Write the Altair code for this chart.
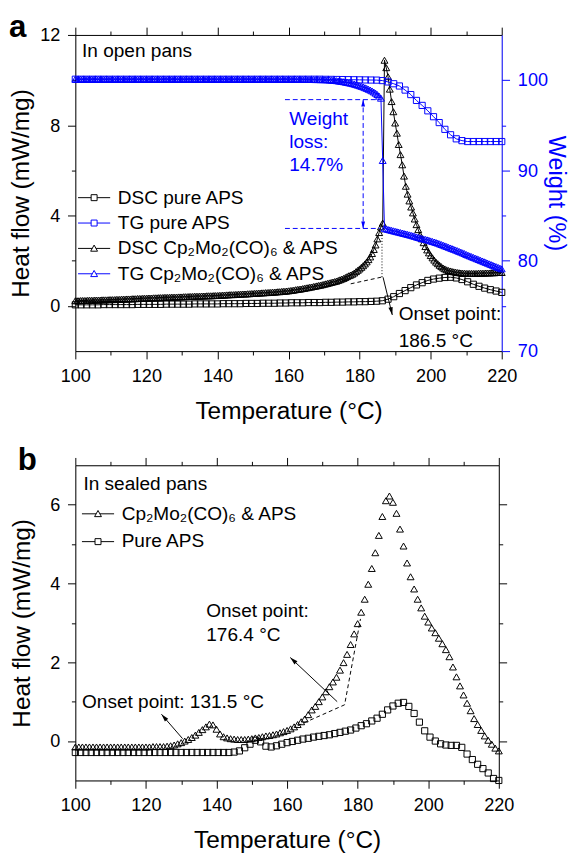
import altair as alt
import pandas as pd

FONT = "Liberation Sans"
BLACK = "#000000"
BLUE = "#0000ff"

# ---------------- panel a : open pans ----------------
T_SQ_A = [100.0, 101.6, 103.2, 104.8, 106.4, 108.0, 109.6, 111.2, 112.8, 114.4,
          116.0, 117.6, 119.2, 120.8, 122.4, 124.0, 125.6, 127.2, 128.8, 130.4,
          132.0, 133.6, 135.2, 136.8, 138.4, 140.0, 141.6, 143.2, 144.8, 146.4,
          148.0, 149.6, 151.2, 152.8, 154.4, 156.0, 157.6, 159.2, 160.8, 162.4,
          164.0, 165.6, 167.2, 168.8, 170.4, 172.0, 173.6, 175.2, 176.8, 178.4,
          180.0, 181.6, 183.2, 184.8, 186.4, 188.0, 189.6, 191.2, 192.8, 194.4,
          196.0, 197.6, 199.2, 200.8, 202.4, 204.0, 205.6, 207.2, 208.8, 210.4,
          212.0, 213.6, 215.2, 216.8, 218.4, 220.0]
DSC_PURE_A = [0.05, 0.05, 0.05, 0.05, 0.05, 0.06, 0.06, 0.06, 0.06, 0.06,
              0.06, 0.07, 0.07, 0.07, 0.07, 0.07, 0.08, 0.08, 0.08, 0.08,
              0.08, 0.09, 0.09, 0.09, 0.09, 0.09, 0.10, 0.10, 0.10, 0.10,
              0.11, 0.11, 0.11, 0.12, 0.12, 0.12, 0.13, 0.13, 0.14, 0.14,
              0.14, 0.15, 0.15, 0.15, 0.16, 0.16, 0.17, 0.17, 0.18, 0.18,
              0.19, 0.19, 0.20, 0.21, 0.23, 0.30, 0.41, 0.55, 0.68, 0.81,
              0.93, 1.03, 1.13, 1.19, 1.23, 1.26, 1.27, 1.24, 1.17, 1.07,
              0.96, 0.87, 0.79, 0.72, 0.66, 0.60]
TG_PURE_A = [100.1, 100.1, 100.1, 100.1, 100.1, 100.1, 100.1, 100.1, 100.1, 100.1,
             100.1, 100.1, 100.1, 100.1, 100.1, 100.1, 100.1, 100.1, 100.1, 100.1,
             100.1, 100.1, 100.1, 100.1, 100.1, 100.1, 100.1, 100.1, 100.1, 100.1,
             100.1, 100.1, 100.1, 100.1, 100.1, 100.1, 100.1, 100.1, 100.1, 100.1,
             100.1, 100.1, 100.1, 100.1, 100.09, 100.08, 100.07, 100.06, 100.05, 100.04,
             100.03, 100.02, 100.01, 100.0, 99.95, 99.8, 99.6, 99.35, 98.9, 98.4,
             97.75, 97.2, 96.6, 95.95, 95.3, 94.55, 93.95, 93.5, 93.3, 93.2,
             93.2, 93.2, 93.2, 93.2, 93.2, 93.2]

T_TRI_A = [100.0, 100.5, 101.0, 101.5, 102.0, 102.5, 103.0, 103.5, 104.0, 104.5,
           105.0, 105.5, 106.0, 106.5, 107.0, 107.5, 108.0, 108.5, 109.0, 109.5,
           110.0, 110.5, 111.0, 111.5, 112.0, 112.5, 113.0, 113.5, 114.0, 114.5,
           115.0, 115.5, 116.0, 116.5, 117.0, 117.5, 118.0, 118.5, 119.0, 119.5,
           120.0, 120.5, 121.0, 121.5, 122.0, 122.5, 123.0, 123.5, 124.0, 124.5,
           125.0, 125.5, 126.0, 126.5, 127.0, 127.5, 128.0, 128.5, 129.0, 129.5,
           130.0, 130.5, 131.0, 131.5, 132.0, 132.5, 133.0, 133.5, 134.0, 134.5,
           135.0, 135.5, 136.0, 136.5, 137.0, 137.5, 138.0, 138.5, 139.0, 139.5,
           140.0, 140.5, 141.0, 141.5, 142.0, 142.5, 143.0, 143.5, 144.0, 144.5,
           145.0, 145.5, 146.0, 146.5, 147.0, 147.5, 148.0, 148.5, 149.0, 149.5,
           150.0, 150.5, 151.0, 151.5, 152.0, 152.5, 153.0, 153.5, 154.0, 154.5,
           155.0, 155.5, 156.0, 156.5, 157.0, 157.5, 158.0, 158.5, 159.0, 159.5,
           160.0, 160.5, 161.0, 161.5, 162.0, 162.5, 163.0, 163.5, 164.0, 164.5,
           165.0, 165.5, 166.0, 166.5, 167.0, 167.5, 168.0, 168.5, 169.0, 169.5,
           170.0, 170.5, 171.0, 171.5, 172.0, 172.5, 173.0, 173.5, 174.0, 174.5,
           175.0, 175.5, 176.0, 176.5, 177.0, 177.5, 178.0, 178.5, 179.0, 179.5,
           180.0, 180.5, 181.0, 181.5, 182.0, 182.5, 183.0, 183.5, 184.0, 184.5,
           185.0, 185.5, 186.0, 186.5, 187.0, 187.5, 188.0, 188.5, 189.0, 189.5,
           190.0, 190.5, 191.0, 191.5, 192.0, 192.5, 193.0, 193.5, 194.0, 194.5,
           195.0, 195.5, 196.0, 196.5, 197.0, 197.5, 198.0, 198.5, 199.0, 199.5,
           200.0, 200.5, 201.0, 201.5, 202.0, 202.5, 203.0, 203.5, 204.0, 204.5,
           205.0, 205.5, 206.0, 206.5, 207.0, 207.5, 208.0, 208.5, 209.0, 209.5,
           210.0, 210.5, 211.0, 211.5, 212.0, 212.5, 213.0, 213.5, 214.0, 214.5,
           215.0, 215.5, 216.0, 216.5, 217.0, 217.5, 218.0, 218.5, 219.0, 219.5,
           220.0]
DSC_CP_A = [0.23, 0.23, 0.23, 0.24, 0.24, 0.24, 0.24, 0.25, 0.25, 0.25, 0.25,
            0.26, 0.26, 0.26, 0.26, 0.27, 0.27, 0.27, 0.27, 0.28, 0.28,
            0.28, 0.28, 0.29, 0.29, 0.29, 0.30, 0.30, 0.30, 0.31, 0.31,
            0.31, 0.32, 0.32, 0.32, 0.33, 0.33, 0.33, 0.34, 0.34, 0.34,
            0.35, 0.35, 0.35, 0.36, 0.36, 0.36, 0.37, 0.37, 0.37, 0.38,
            0.38, 0.38, 0.38, 0.39, 0.39, 0.39, 0.39, 0.40, 0.40, 0.40,
            0.41, 0.41, 0.41, 0.42, 0.42, 0.42, 0.43, 0.43, 0.43, 0.43,
            0.44, 0.44, 0.44, 0.45, 0.45, 0.45, 0.45, 0.46, 0.46, 0.46,
            0.47, 0.47, 0.48, 0.48, 0.49, 0.49, 0.50, 0.50, 0.50, 0.51,
            0.51, 0.52, 0.52, 0.53, 0.53, 0.53, 0.54, 0.54, 0.55, 0.55,
            0.56, 0.56, 0.57, 0.57, 0.58, 0.58, 0.59, 0.59, 0.60, 0.60,
            0.61, 0.61, 0.62, 0.63, 0.63, 0.64, 0.65, 0.65, 0.66, 0.67,
            0.68, 0.69, 0.70, 0.72, 0.73, 0.74, 0.75, 0.77, 0.78, 0.80,
            0.81, 0.83, 0.84, 0.86, 0.87, 0.89, 0.91, 0.92, 0.94, 0.96,
            0.98, 1.00, 1.02, 1.04, 1.06, 1.08, 1.10, 1.13, 1.16, 1.19,
            1.22, 1.26, 1.30, 1.34, 1.37, 1.41, 1.46, 1.52, 1.58, 1.64,
            1.71, 1.78, 1.86, 1.95, 2.05, 2.17, 2.32, 2.50, 2.70, 2.97,
            3.25, 3.50, 3.67,
            10.88, 10.55, 10.15, 9.60, 9.05, 8.60, 8.10,
            7.65, 7.15, 6.70, 6.25, 5.75, 5.30, 4.95, 4.65, 4.38, 4.12,
            3.85, 3.60, 3.38, 3.15, 2.97, 2.80, 2.63, 2.48, 2.35, 2.23,
            2.13, 2.03, 1.94, 1.87, 1.80, 1.74, 1.68, 1.64, 1.60, 1.57,
            1.55, 1.53, 1.51, 1.50, 1.48, 1.47, 1.46, 1.45, 1.45, 1.44,
            1.44, 1.44, 1.44, 1.44, 1.44, 1.44, 1.45, 1.45, 1.45, 1.45,
            1.46, 1.46, 1.46, 1.47, 1.47, 1.47, 1.48, 1.48, 1.48, 1.48]
TG_CP_A = [100.1, 100.1, 100.1, 100.1, 100.1, 100.1, 100.1, 100.1, 100.1, 100.1,
           100.1, 100.1, 100.1, 100.1, 100.1, 100.1, 100.1, 100.1, 100.1, 100.1,
           100.1, 100.1, 100.1, 100.1, 100.1, 100.1, 100.1, 100.1, 100.1, 100.1,
           100.1, 100.1, 100.1, 100.1, 100.1, 100.1, 100.1, 100.1, 100.1, 100.1,
           100.1, 100.1, 100.1, 100.1, 100.1, 100.1, 100.1, 100.1, 100.1, 100.1,
           100.1, 100.1, 100.1, 100.1, 100.1, 100.1, 100.1, 100.1, 100.1, 100.1,
           100.1, 100.1, 100.1, 100.1, 100.1, 100.1, 100.1, 100.1, 100.1, 100.1,
           100.1, 100.1, 100.1, 100.1, 100.1, 100.1, 100.1, 100.1, 100.1, 100.1,
           100.1, 100.1, 100.1, 100.1, 100.1, 100.1, 100.1, 100.1, 100.1, 100.1,
           100.1, 100.1, 100.1, 100.1, 100.1, 100.1, 100.1, 100.1, 100.1, 100.1,
           100.1, 100.1, 100.1, 100.1, 100.1, 100.1, 100.1, 100.1, 100.1, 100.1,
           100.1, 100.1, 100.1, 100.1, 100.1, 100.1, 100.1, 100.1, 100.1, 100.1,
           100.1,
           100.10, 100.10, 100.10, 100.10, 100.10, 100.09, 100.09, 100.09, 100.08, 100.08,
           100.08, 100.07, 100.07, 100.07, 100.06, 100.06, 100.06, 100.05, 100.05, 100.05,
           100.04, 100.03, 100.02, 100.00, 99.98, 99.96, 99.94, 99.91, 99.88, 99.85,
           99.82, 99.78, 99.74, 99.70, 99.66, 99.61, 99.56, 99.50, 99.44, 99.38,
           99.31, 99.24, 99.16, 99.08, 98.99, 98.90, 98.80, 98.68, 98.55, 98.40,
           98.22, 98.00,
           91.10,
           83.60, 83.52, 83.47, 83.42, 83.37, 83.32, 83.27,
           83.22, 83.17, 83.12, 83.07, 83.02, 82.97, 82.92, 82.87, 82.82, 82.76,
           82.70, 82.64, 82.58, 82.52, 82.47, 82.42, 82.37, 82.32, 82.27, 82.20,
           82.14, 82.08, 82.02, 81.95, 81.88, 81.80, 81.73, 81.65, 81.58, 81.50,
           81.42, 81.35, 81.27, 81.20, 81.12, 81.04, 80.96, 80.88, 80.80, 80.70,
           80.62, 80.54, 80.46, 80.38, 80.30, 80.22, 80.14, 80.06, 79.98, 79.90,
           79.82, 79.74, 79.66, 79.58, 79.50, 79.42, 79.34, 79.26, 79.18, 79.10]

LEGEND_A = ["\u00a0DSC pure APS", "TG pure APS",
            "DSC Cp\u2082Mo\u2082(CO)\u2086 & APS", "TG Cp\u2082Mo\u2082(CO)\u2086 & APS"]

# annotations, panel a (heat-flow coordinates)
A_TEXT = ["In open pans", "Onset point:", "186.5 \u00b0C"]
A_TEXT_T = [101.9, 191.0, 191.0]
A_TEXT_V = [11.04, -0.63, -1.81]
A_LABEL, A_LABEL_T, A_LABEL_V = "a", 81.33, 11.91
A_TAN_T, A_TAN_V = [177.5, 186.3], [0.98, 1.28]
A_DOT_T, A_DOT_V = [186.3, 186.3], [1.28, 3.69]
A_ARR_T, A_ARR_V, A_ARR_ANG = [186.6, 189.2], [1.27, -0.40], 167
# annotations, panel a (weight coordinates)
W_TEXT = ["Weight", "loss:", "14.7%"]
W_TEXT_T = [160.2, 160.2, 160.2]
W_TEXT_V = [95.03, 92.5, 89.98]
W_HI, W_LO = 97.84, 83.58
W_H_T = [159.0, 185.7]
W_V_T = 181.0

# ---------------- panel b : sealed pans ----------------
T_SQ_B = [100.0, 101.5, 103.0, 104.5, 106.0, 107.5, 109.0, 110.5, 112.0, 113.5,
          115.0, 116.5, 118.0, 119.5, 121.0, 122.5, 124.0, 125.5, 127.0, 128.5,
          130.0, 131.5, 133.0, 134.5, 136.0, 137.5, 139.0, 140.5, 142.0, 143.5,
          145.0, 146.5, 148.0, 149.5, 151.0, 152.5, 154.0, 155.5, 157.0, 158.5,
          160.0, 161.5, 163.0, 164.5, 166.0, 167.5, 169.0, 170.5, 172.0, 173.5,
          175.0, 176.5, 178.0, 179.5, 181.0, 182.5, 184.0, 185.5, 187.0, 188.5,
          190.0, 191.5, 193.0, 194.5, 196.0, 197.5, 199.0, 200.5, 202.0, 203.5,
          205.0, 206.5, 208.0, 209.5, 211.0, 212.5, 214.0, 215.5, 217.0, 218.5,
          220.0]
PURE_B = [-0.29, -0.29, -0.29, -0.29, -0.29, -0.29, -0.29, -0.29, -0.29, -0.29,
          -0.29, -0.29, -0.29, -0.29, -0.29, -0.29, -0.29, -0.29, -0.29, -0.29,
          -0.29, -0.29, -0.29, -0.29, -0.29, -0.29, -0.29, -0.29, -0.29, -0.29,
          -0.28, -0.25, -0.17, -0.08, 0.02, -0.02, -0.13, -0.15, -0.12, -0.08,
          -0.04, -0.01, 0.02, 0.05, 0.07, 0.10, 0.12, 0.14, 0.16, 0.19,
          0.22, 0.25, 0.28, 0.33, 0.39, 0.44, 0.51, 0.58, 0.68, 0.79,
          0.89, 0.96, 0.98, 0.88, 0.70, 0.48, 0.26, 0.10, 0.00, -0.07,
          -0.10, -0.11, -0.11, -0.16, -0.33, -0.47, -0.59, -0.70, -0.81, -0.95,
          -1.00]
T_TRI_B = [100, 101, 102, 103, 104, 105, 106, 107, 108, 109,
           110, 111, 112, 113, 114, 115, 116, 117, 118, 119,
           120, 121, 122, 123, 124, 125, 126, 127, 128, 129,
           130, 131, 132, 133, 134, 135, 136, 137, 138, 139,
           140, 141, 142, 143, 144, 145, 146, 147, 148, 149,
           150, 151, 152, 153, 154, 155, 156, 157, 158, 159,
           160, 161, 162, 163, 164, 165, 166, 167, 168, 169,
           170, 171, 172, 173, 174, 175, 176, 177, 178, 179,
           180, 181, 182, 183, 184, 185, 186, 187, 188, 189,
           190, 191, 192, 193, 194, 195, 196, 197, 198, 199,
           200, 201, 202, 203, 204, 205, 206, 207, 208, 209,
           210, 211, 212, 213, 214, 215, 216, 217, 218, 219,
           220]
CP_B = [-0.15, -0.15, -0.15, -0.15, -0.15, -0.15, -0.15, -0.15, -0.15, -0.15,
        -0.15, -0.15, -0.15, -0.15, -0.15, -0.15, -0.15, -0.15, -0.15, -0.15,
        -0.15, -0.15, -0.14, -0.14, -0.14, -0.14,
        -0.13, -0.12, -0.10, -0.07, -0.04, 0.00, 0.04, 0.09, 0.15, 0.22,
        0.29, 0.36, 0.43, 0.41, 0.30, 0.18, 0.11, 0.08, 0.06, 0.05,
        0.04, 0.04, 0.04, 0.05, 0.06, 0.08, 0.09, 0.11, 0.13, 0.14,
        0.16, 0.18, 0.21, 0.24, 0.27, 0.31, 0.36, 0.42, 0.49, 0.56,
        0.67, 0.79, 0.88, 1.00, 1.12, 1.25, 1.38, 1.50, 1.62, 1.80,
        1.99, 2.20, 2.45, 2.72, 2.98, 3.27, 3.60, 3.98, 4.38, 4.78,
        5.22, 5.70, 6.10, 6.22, 6.06, 5.78, 5.38, 4.95, 4.52, 4.17,
        3.86, 3.60, 3.38, 3.17, 3.02, 2.87, 2.75, 2.61, 2.47, 2.32,
        2.14, 1.88, 1.63, 1.40, 1.17, 0.96, 0.77, 0.57, 0.42, 0.27,
        0.13, 0.02, -0.08, -0.18, -0.25]

LEGEND_B = ["Cp\u2082Mo\u2082(CO)\u2086 & APS", "Pure APS"]

B_TEXT = ["In sealed pans", "Onset point:", "176.4 \u00b0C", "Onset point: 131.5 \u00b0C"]
B_TEXT_T = [102.3, 137.1, 137.1, 101.9]
B_TEXT_V = [6.38, 3.16, 2.54, 0.84]
B_LABEL, B_LABEL_T, B_LABEL_V = "b", 83.69, 6.876
B_DASH_T, B_DASH_V = [163.0, 176.3, 180.8], [0.39, 0.92, 3.10]
B_ARR1_T, B_ARR1_V, B_ARR1_ANG = [130.4, 124.4], [0.06, 0.68], 319
B_ARR2_T, B_ARR2_V, B_ARR2_ANG = [174.2, 160.9], [1.00, 2.12], 313

# ---------------- helpers ----------------
X_TICKS = [100, 110, 120, 130, 140, 150, 160, 170, 180, 190, 200, 210, 220]
YA_TICKS = [0, 2, 4, 6, 8, 10, 12]
W_TICKS = [70, 75, 80, 85, 90, 95, 100]
YB_TICKS = [0, 1, 2, 3, 4, 5, 6]

SQ_SYM = "M-1.83,0L-0.34,0M0.34,0L1.83,0M-0.34,-0.34L0.34,-0.34L0.34,0.34L-0.34,0.34Z"
TRI_SYM = "M-1.83,0L-0.21,0M0.21,0L1.83,0M0,-0.38L0.39,0.32L-0.39,0.32Z"
ARROW = "M0,0L0.45,1.6L-0.45,1.6Z"


def make_axis(orient, values, test, color=BLACK, labels=True, title=None, title_pad=6,
              title_size=25):
    kw = dict(orient=orient, values=values, grid=False,
              domainColor=color, domainWidth=1, tickColor=color, tickWidth=1,
              tickSize={"condition": {"test": test, "value": 8}, "value": 4},
              labelFlush=False, labelOverlap=False)
    if labels:
        kw.update(labelExpr="(" + test + ") ? datum.label : ''", labelColor=color,
                  labelFont=FONT, labelFontSize=18.5, labelPadding=8)
    else:
        kw.update(labels=False)
    if title:
        kw.update(title=title, titleColor=color, titleFont=FONT, titleFontSize=title_size,
                  titleFontWeight="normal", titlePadding=title_pad)
    else:
        kw.update(title=None)
    return alt.Axis(**kw)


def sc(lo, hi):
    return alt.Scale(domain=[lo, hi], nice=False, zero=False)


def df(t, v):
    return pd.DataFrame({"T": t, "v": v})


def segs(parts):
    rows = []
    for g, (ts, vs) in enumerate(parts):
        for k, (t, v) in enumerate(zip(ts, vs)):
            rows.append({"g": g, "k": k, "T": t, "v": v})
    return pd.DataFrame(rows)


def series(data, shape, color, size, X, Y, with_line=True):
    pts = alt.Chart(data).mark_point(shape=shape, filled=False, size=size, strokeWidth=1,
                                     color=color, opacity=1).encode(x=X, y=Y)
    if not with_line:
        return [pts]
    ln = alt.Chart(data).mark_line(color=color, strokeWidth=1).encode(x=X, y=Y)
    return [ln, pts]


def seg_lines(data, color, X, Y, dash=None):
    kw = dict(color=color, strokeWidth=1)
    if dash:
        kw["strokeDash"] = dash
    return alt.Chart(data).mark_line(**kw).encode(x=X, y=Y, detail="g:N", order="k:Q")


def heads(ts, vs, angs, color, size, X, Y):
    d = pd.DataFrame({"T": ts, "v": vs, "ang": angs})
    return alt.Chart(d).mark_point(shape=ARROW, filled=True, size=size, color=color,
                                   opacity=1, strokeWidth=0).encode(
        x=X, y=Y, angle=alt.Angle("ang:Q", scale=None))


def texts(txt, ts, vs, color, X, Y, size=19.5, weight="normal"):
    d = pd.DataFrame({"T": ts, "v": vs, "txt": txt})
    return alt.Chart(d).mark_text(align="left", baseline="alphabetic", font=FONT,
                                  fontSize=size, fontWeight=weight, color=color).encode(
        x=X, y=Y, text="txt:N")


def legend_layer(field, names, colors, shapes, lx, ly, rowpad):
    leg = alt.Legend(orient="none", legendX=lx, legendY=ly, title=None, labelFont=FONT,
                     labelFontSize=19.5, labelColor=BLACK, labelLimit=600, symbolSize=324,
                     symbolStrokeWidth=1, rowPadding=rowpad, labelOffset=14.5,
                     padding=0, symbolOffset=0)
    d = pd.DataFrame({field: names})
    return alt.Chart(d).transform_filter("false").mark_point(
        filled=False, opacity=1, strokeWidth=1).encode(
        color=alt.Color(field + ":N", scale=alt.Scale(domain=names, range=colors), legend=leg),
        shape=alt.Shape(field + ":N", scale=alt.Scale(domain=names, range=shapes), legend=leg))


# ---------------- panel a ----------------
XA = alt.X("T:Q", scale=sc(100, 220),
           axis=make_axis("bottom", X_TICKS, "datum.value % 20 === 0",
                          title="Temperature (\u00b0C)", title_pad=14.5))
YA = alt.Y("v:Q", scale=sc(-2, 12),
           axis=make_axis("left", YA_TICKS, "datum.value % 4 === 0",
                          title="Heat flow (mW/mg)", title_pad=6))
XW = alt.X("T:Q", scale=sc(100, 220),
           axis=make_axis("top", X_TICKS, "datum.value % 20 === 0", labels=False))
YW = alt.Y("v:Q", scale=sc(70, 105),
           axis=make_axis("right", W_TICKS, "datum.value % 10 === 0", color=BLUE,
                          title="Weight (%)", title_pad=-4, title_size=24))

heat_layers = []
heat_layers += series(df(T_SQ_A, DSC_PURE_A), "square", BLACK, 40, XA, YA)
heat_layers += series(df(T_TRI_A, DSC_CP_A), "triangle-up", BLACK, 50, XA, YA)
heat_layers.append(seg_lines(segs([(A_TAN_T, A_TAN_V)]), BLACK, XA, YA, dash=[4, 3]))
heat_layers.append(seg_lines(segs([(A_DOT_T, A_DOT_V)]), BLACK, XA, YA, dash=[1, 2]))
heat_layers.append(seg_lines(segs([(A_ARR_T, A_ARR_V)]), BLACK, XA, YA))
heat_layers.append(heads([A_ARR_T[1]], [A_ARR_V[1]], [A_ARR_ANG], BLACK, 100, XA, YA))
heat_layers.append(texts(A_TEXT, A_TEXT_T, A_TEXT_V, BLACK, XA, YA))
heat_layers.append(texts([A_LABEL], [A_LABEL_T], [A_LABEL_V], BLACK, XA, YA, 32, "bold"))
heat_layers.append(legend_layer("sa", LEGEND_A, [BLACK, BLUE, BLACK, BLUE],
                                [SQ_SYM, SQ_SYM, TRI_SYM, TRI_SYM], 9.5, 157, 5))

w_layers = []
w_layers += series(df(T_SQ_A, TG_PURE_A), "square", BLUE, 40, XW, YW)
w_layers += series(df(T_TRI_A, TG_CP_A), "triangle-up", BLUE, 50, XW, YW)
w_layers.append(seg_lines(segs([(W_H_T, [W_HI, W_HI]), (W_H_T, [W_LO, W_LO]),
                                ([W_V_T, W_V_T], [W_HI, W_LO])]), BLUE, XW, YW, dash=[5, 3]))
w_layers.append(heads([W_V_T, W_V_T], [W_HI, W_LO], [0, 180], BLUE, 77, XW, YW))
w_layers.append(texts(W_TEXT, W_TEXT_T, W_TEXT_V, BLUE, XW, YW))

panel_a = alt.layer(alt.layer(*heat_layers), alt.layer(*w_layers)).resolve_scale(
    x="independent", y="independent").properties(width=437, height=324)

# ---------------- panel b ----------------
XB = alt.X("T:Q", scale=sc(100, 220),
           axis=make_axis("bottom", X_TICKS, "datum.value % 20 === 0",
                          title="Temperature (\u00b0C)", title_pad=14.5))
YB = alt.Y("v:Q", scale=sc(-1, 7),
           axis=make_axis("left", YB_TICKS, "datum.value % 2 === 0",
                          title="Heat flow (mW/mg)", title_pad=16))
XB2 = alt.X("T:Q", scale=sc(100, 220),
            axis=make_axis("top", X_TICKS, "datum.value % 20 === 0", labels=False))
YB2 = alt.Y("v:Q", scale=sc(-1, 7),
            axis=make_axis("right", YB_TICKS, "datum.value % 2 === 0", labels=False))

b_layers = []
b_layers += series(df(T_TRI_B, CP_B), "triangle-up", BLACK, 50, XB, YB, with_line=False)
b_layers += series(df(T_SQ_B, PURE_B), "square", BLACK, 40, XB, YB, with_line=False)
b_layers.append(seg_lines(segs([(B_DASH_T, B_DASH_V)]), BLACK, XB, YB, dash=[4, 3]))
b_layers.append(seg_lines(segs([(B_ARR1_T, B_ARR1_V), (B_ARR2_T, B_ARR2_V)]), BLACK, XB, YB))
b_layers.append(heads([B_ARR1_T[1], B_ARR2_T[1]], [B_ARR1_V[1], B_ARR2_V[1]],
                      [B_ARR1_ANG, B_ARR2_ANG], BLACK, 100, XB, YB))
b_layers.append(texts(B_TEXT, B_TEXT_T, B_TEXT_V, BLACK, XB, YB))
b_layers.append(texts([B_LABEL], [B_LABEL_T], [B_LABEL_V], BLACK, XB, YB, 32, "bold"))
b_layers.append(legend_layer("sb", LEGEND_B, [BLACK, BLACK], [TRI_SYM, SQ_SYM], 13.5, 40, 7.5))

frame_b = alt.Chart(df([100.0], [0.0])).transform_filter("false").mark_point(opacity=0).encode(
    x=XB2, y=YB2)

panel_b = alt.layer(alt.layer(*b_layers), frame_b).resolve_scale(
    x="independent", y="independent").properties(width=434, height=323)

chart = alt.vconcat(panel_a, panel_b, spacing=20).resolve_scale(
    color="independent", shape="independent").resolve_legend(
    color="independent", shape="independent").properties(
    padding={"top": -8, "left": 0, "right": 4, "bottom": 0}).configure_view(
    stroke=None).configure(font=FONT)

chart.save("out.html", embed_options={"renderer": "svg", "actions": False})
